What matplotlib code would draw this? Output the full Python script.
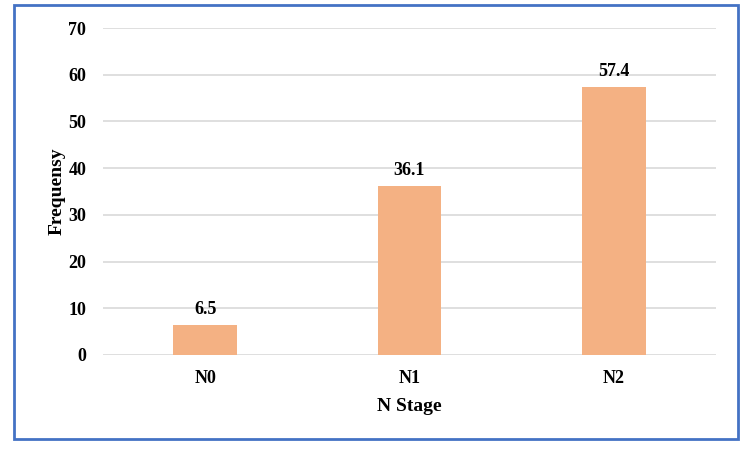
import matplotlib.pyplot as plt
from matplotlib.patches import Rectangle

stages = ['N0', 'N1', 'N2']
freq = [6.5, 36.1, 57.4]
yticks = [0, 10, 20, 30, 40, 50, 60, 70]

plt.rcParams['font.family'] = ['Liberation Serif', 'DejaVu Serif']
plt.rcParams['font.weight'] = 'bold'

fig = plt.figure(figsize=(7.5, 4.49), dpi=100)
ax = fig.add_axes([0.1373, 0.2094, 0.8174, 0.7282])

x = range(len(stages))
bars = ax.bar(x, freq, width=0.31, color='#F4B183', zorder=3)
ax.bar_label(bars, labels=[str(v) for v in freq], padding=5,
             fontsize=13, fontweight='bold')

ax.set_xlim(-0.5, 2.5)
ax.set_ylim(0, 70)
ax.set_yticks(yticks)
ax.set_xticks(list(x))
ax.set_xticklabels(stages)
ax.grid(axis='y', color='#D9D9D9', linewidth=1.2, zorder=0)
for s in ax.spines.values():
    s.set_visible(False)
ax.tick_params(length=0, labelsize=13)
ax.tick_params(axis='y', pad=12)
ax.tick_params(axis='x', pad=11)
ax.set_xlabel('N Stage', fontsize=14, fontweight='bold', labelpad=8)
ax.set_ylabel('Frequensy', fontsize=14, fontweight='bold', labelpad=2)

# blue frame round the whole chart
fig.patches.append(Rectangle((0.0187, 0.0223), 0.9653, 0.9666, transform=fig.transFigure,
                             fill=False, edgecolor='#4472C4', linewidth=2))

plt.savefig('out.png', dpi=100)
